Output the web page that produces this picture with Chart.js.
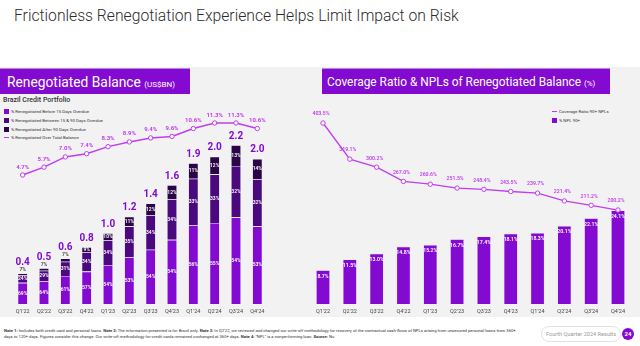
<!DOCTYPE html>
<html>
<head>
<meta charset="utf-8">
<script src="https://cdn.jsdelivr.net/npm/chart.js@4.4.1/dist/chart.umd.min.js"></script>
<style>
  body { margin: 0; background: #fff; font-family: Roboto, "Noto Sans", sans-serif; }
  #page { position: relative; width: 640px; height: 346px; overflow: hidden; }
  .abs { position: absolute; }
  #title { left: 14px; top: 6px; font-size: 15.7px; font-weight: 300; color: #2b2b2b; white-space: nowrap; }
  #panel { left: 0; top: 67px; width: 640px; height: 250px; background: #f2f2f2; }
  .hdr { top: 68px; height: 26px; background: #820ad1; color: #fff; line-height: 26px; white-space: nowrap; border-top: 1px solid #b58be0; box-sizing: border-box; overflow: hidden; }
  .hdr small { font-size: 8px; }
  #hdrL { left: 0; width: 190px; padding-left: 7px; font-size: 13.8px; }
  #hdrR { left: 322px; width: 288px; padding-left: 5px; font-size: 11.9px; }
  #sub { left: 3px; top: 96px; font-size: 7px; font-weight: 500; color: #333; }
  .leg { font-size: 4.4px; color: #333; white-space: nowrap; height: 7px; line-height: 7px; }
  .sq { display: inline-block; width: 5px; height: 5px; vertical-align: -1px; margin-right: 2px; }
  .ln { display: inline-block; width: 5px; height: 1.5px; vertical-align: 1px; margin-right: 2px; }
  canvas { position: absolute; }
  #notes { left: 4px; top: 328px; width: 520px; font-size: 4.2px; line-height: 6px; color: #333; }
  #pill { left: 541px; top: 326px; width: 80px; height: 16px; border: 1px solid #e2e2e2; border-radius: 8px; box-sizing: border-box; font-size: 5.6px; color: #999; text-align: center; line-height: 14px; white-space: nowrap; }
  #pg { left: 622px; top: 328px; width: 12px; height: 12px; border-radius: 6px; background: #820ad1; color: #fff; font-size: 6px; font-weight: 700; text-align: center; line-height: 12px; }
</style>
</head>
<body>
<div id="page">
  <div id="title" class="abs">Frictionless Renegotiation Experience Helps Limit Impact on Risk</div>
  <div id="panel" class="abs"></div>
  <div id="hdrL" class="abs hdr">Renegotiated Balance <small>(US$BN)</small></div>
  <div id="hdrR" class="abs hdr">Coverage Ratio &amp; NPLs of Renegotiated Balance <small>(%)</small></div>
  <div id="sub" class="abs">Brazil Credit Portfolio</div>
  <div class="abs" style="left:4px; top:108px;">
    <div class="leg"><span class="sq" style="background:#820ad1"></span>% Renegotiated Before 15 Days Overdue</div>
    <div class="leg" style="margin-top:2px"><span class="sq" style="background:#4a0a7e"></span>% Renegotiated Between 15 &amp; 90 Days Overdue</div>
    <div class="leg" style="margin-top:2px"><span class="sq" style="background:#2a0646"></span>% Renegotiated After 90 Days Overdue</div>
    <div class="leg" style="margin-top:1px"><span class="ln" style="background:#c13cf0"></span>% Renegotiated Over Total Balance</div>
  </div>
  <div class="abs" style="left:552px; top:108px;">
    <div class="leg"><span class="ln" style="background:#c13cf0"></span>Coverage Ratio 90+ NPLs</div>
    <div class="leg" style="margin-top:2px"><span class="sq" style="background:#820ad1"></span>% NPL 90+</div>
  </div>
  <canvas id="leftChart" width="300" height="223" style="left:0; top:95px;"></canvas>
  <canvas id="rightChart" width="340" height="223" style="left:300px; top:95px;"></canvas>
  <div id="notes" class="abs"><b>Note 1:</b> Includes both credit card and personal loans. <b>Note 2:</b> The information presented is for Brazil only. <b>Note 3:</b> In Q2'22, we reviewed and changed our write-off methodology for recovery of the contractual cash-flows of NPLs arising from unsecured personal loans from 360+ days to 120+ days. Figures consider this change. Our write-off methodology for credit cards remained unchanged at 360+ days. <b>Note 4:</b> "NPL" is a nonperforming loan. <b>Source:</b> Nu.</div>
  <div id="pill" class="abs">Fourth Quarter 2024 Results</div>
  <div id="pg" class="abs">24</div>
</div>
<script>
// Data
const quarters = ["Q1'22", "Q2'22", "Q3'22", "Q4'22", "Q1'23", "Q2'23", "Q3'23", "Q4'23", "Q1'24", "Q2'24", "Q3'24", "Q4'24"];
const totalBalance = [0.42, 0.49, 0.63, 0.78, 0.99, 1.21, 1.38, 1.63, 1.93, 2.02, 2.2, 2.01];
const pctBefore15 = [69, 64, 61, 57, 54, 53, 54, 54, 56, 55, 54, 53];
const pctBetween15and90 = [24, 29, 31, 34, 34, 35, 34, 34, 33, 33, 32, 32];
const pctAfter90 = [7, 7, 7, 9, 10, 11, 12, 12, 11, 12, 13, 14];
const pctOverTotal = [4.7, 5.7, 7.0, 7.4, 8.3, 8.9, 9.4, 9.6, 10.6, 11.3, 11.3, 10.6];
const coverageRatio = [403.5, 319.1, 300.2, 267.0, 260.6, 251.5, 248.4, 243.5, 239.7, 221.4, 211.2, 200.2];
const nplRatio = [8.7, 11.5, 13.0, 14.8, 15.2, 16.7, 17.4, 18.1, 18.3, 20.1, 22.1, 24.1];

const PURPLE = '#820ad1';
const MID = '#4a0a7e';
const DARK = '#2a0646';
const MAGENTA = '#c13cf0';
const FONT = 'Roboto, "Noto Sans", sans-serif';

Chart.defaults.font.family = FONT;
Chart.defaults.animation = false;

const seg = pcts => pcts.map((p, i) => totalBalance[i] * p / 100);

// shared quarter axis, fixed height so both plots end at the same baseline
const xAxis = {
    grid: { display: false, drawTicks: false },
    border: { display: false },
    ticks: { color: '#444', font: { size: 5.5 }, padding: 4, maxRotation: 0, autoSkip: false },
    afterFit(scale) { scale.height = 14; }
};

// labels for the renegotiated balance chart
const leftLabels = {
    id: 'leftLabels',
    afterDatasetsDraw(chart) {
        const ctx = chart.ctx;
        const segs = [pctBefore15, pctBetween15and90, pctAfter90];
        ctx.save();
        ctx.textAlign = 'center';
        ctx.textBaseline = 'middle';
        quarters.forEach((q, i) => {
            let topY = null;
            let outside = false;
            segs.forEach((arr, d) => {
                const el = chart.getDatasetMeta(d).data[i];
                const h = el.base - el.y;
                topY = el.y;
                ctx.font = '600 5px ' + FONT;
                if (d === 2 && h < 4.5) {
                    outside = true;
                    ctx.fillStyle = '#444';
                    ctx.fillText(arr[i] + '%', el.x, el.y - 4);
                } else {
                    ctx.fillStyle = '#fff';
                    ctx.fillText(arr[i] + '%', el.x, (el.y + el.base) / 2);
                }
            });
            const x = chart.getDatasetMeta(0).data[i].x;
            ctx.fillStyle = PURPLE;
            ctx.font = '700 10px ' + FONT;
            ctx.fillText(totalBalance[i].toFixed(1), x, topY - (outside ? 11 : 9));
        });
        const line = chart.getDatasetMeta(3);
        ctx.fillStyle = MAGENTA;
        ctx.font = '700 6px ' + FONT;
        line.data.forEach((pt, i) => {
            ctx.fillText(pctOverTotal[i].toFixed(1) + '%', pt.x, pt.y - 8);
        });
        ctx.restore();
    }
};

new Chart(document.getElementById('leftChart'), {
    type: 'bar',
    data: {
        labels: quarters,
        datasets: [
            { label: '% Renegotiated Before 15 Days Overdue', data: seg(pctBefore15), backgroundColor: PURPLE, order: 1 },
            { label: '% Renegotiated Between 15 & 90 Days Overdue', data: seg(pctBetween15and90), backgroundColor: MID, order: 1 },
            { label: '% Renegotiated After 90 Days Overdue', data: seg(pctAfter90), backgroundColor: DARK, order: 1 },
            {
                type: 'line', label: '% Renegotiated Over Total Balance', data: pctOverTotal, yAxisID: 'y2',
                borderColor: MAGENTA, borderWidth: 1.5, pointRadius: 2.2, pointBorderWidth: 1,
                pointBackgroundColor: '#fff', pointBorderColor: MAGENTA, order: 0
            }
        ]
    },
    options: {
        responsive: false,
        devicePixelRatio: 1,
        datasets: { bar: { barPercentage: 0.47, categoryPercentage: 1, borderColor: '#ede4f5', borderWidth: 0.6 } },
        layout: { padding: { left: 12, right: 32, top: 15, bottom: 0 } },
        plugins: { legend: { display: false }, tooltip: { enabled: false } },
        scales: {
            x: { ...xAxis, stacked: true },
            y: { display: false, stacked: true, min: 0, max: 2.66 },
            y2: { display: false, min: -11.67, max: 12.95 }
        }
    },
    plugins: [leftLabels]
});

// labels for the coverage ratio chart
const rightLabels = {
    id: 'rightLabels',
    afterDatasetsDraw(chart) {
        const ctx = chart.ctx;
        ctx.save();
        ctx.textAlign = 'center';
        ctx.textBaseline = 'middle';
        ctx.fillStyle = '#fff';
        ctx.font = '600 5.2px ' + FONT;
        chart.getDatasetMeta(0).data.forEach((el, i) => {
            ctx.fillText(nplRatio[i].toFixed(1) + '%', el.x, el.y + 6);
        });
        ctx.fillStyle = MAGENTA;
        chart.getDatasetMeta(1).data.forEach((pt, i) => {
            ctx.fillText(coverageRatio[i].toFixed(1) + '%', pt.x - 2, pt.y - 9);
        });
        ctx.restore();
    }
};

new Chart(document.getElementById('rightChart'), {
    type: 'bar',
    data: {
        labels: quarters,
        datasets: [
            { label: '% NPL 90+', data: nplRatio, backgroundColor: PURPLE, borderColor: '#ede4f5', borderWidth: 0.6, order: 1 },
            {
                type: 'line', label: 'Coverage Ratio 90+ NPLs', data: coverageRatio, yAxisID: 'y2',
                borderColor: MAGENTA, borderWidth: 1.3, pointRadius: 2.2, pointBorderWidth: 1,
                pointBackgroundColor: '#fff', pointBorderColor: MAGENTA, order: 0
            }
        ]
    },
    options: {
        responsive: false,
        devicePixelRatio: 1,
        datasets: { bar: { barPercentage: 0.52, categoryPercentage: 1 } },
        layout: { padding: { left: 9.6, right: 8.6, top: 15, bottom: 0 } },
        plugins: { legend: { display: false }, tooltip: { enabled: false } },
        scales: {
            x: xAxis,
            y: { display: false, min: 0, max: 50 },
            y2: { display: false, min: -19.4, max: 433.9 }
        }
    },
    plugins: [rightLabels]
});
</script>
</body>
</html>
